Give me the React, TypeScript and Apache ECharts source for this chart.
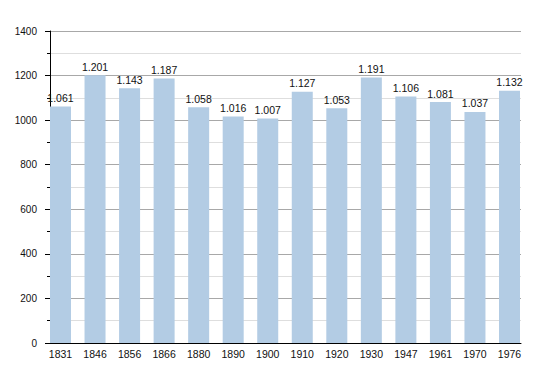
import React, { useEffect, useRef } from "react";
import * as echarts from "echarts";

const years = ["1831", "1846", "1856", "1866", "1880", "1890", "1900", "1910", "1920", "1930", "1947", "1961", "1970", "1976"];
const population = [1061, 1201, 1143, 1187, 1058, 1016, 1007, 1127, 1053, 1191, 1106, 1081, 1037, 1132];

const FONT = "'Liberation Sans', Arial, Helvetica, sans-serif";

function fmt(v: number): string {
  const s = String(Math.round(v));
  return s.replace(/\B(?=(\d{3})+(?!\d))/g, ".");
}

export default function App() {
  const ref = useRef<HTMLDivElement>(null);
  useEffect(() => {
    if (!ref.current) return;
    const chart = echarts.init(ref.current, undefined, { renderer: "svg" });
    chart.setOption({
      animation: false,
      backgroundColor: "#ffffff",
      textStyle: { fontFamily: FONT },
      grid: [
        { left: 50, right: 29, top: 31, bottom: 30, containLabel: false },
        { left: 60.5, right: 40.5, top: 31, bottom: 30, containLabel: false },
      ],
      xAxis: [
        {
          type: "category",
          gridIndex: 0,
          data: [""],
          axisLine: { show: true, lineStyle: { color: "#000", width: 1 } },
          axisTick: { show: false },
          axisLabel: { show: false },
          splitLine: { show: false },
          z: 0,
        },
        {
          type: "category",
          gridIndex: 1,
          data: years,
          boundaryGap: false,
          axisLine: { show: false },
          axisTick: { show: false },
          axisLabel: { show: true, color: "#111", fontSize: 10.5, fontFamily: FONT, margin: 5, interval: 0 },
          splitLine: { show: false },
        },
      ],
      yAxis: [
        {
          type: "value",
          gridIndex: 0,
          min: 0,
          max: 1400,
          interval: 200,
          axisLine: { show: true, lineStyle: { color: "#000", width: 1 } },
          axisTick: { show: true, length: 5, lineStyle: { color: "#000" } },
          minorTick: { show: true, splitNumber: 2, length: 3, lineStyle: { color: "#000" } },
          axisLabel: { color: "#111", fontSize: 10, fontFamily: FONT, margin: 13, formatter: (v: number) => String(v) },
          splitLine: { show: true, lineStyle: { color: "#a8a8a8", width: 1 } },
          minorSplitLine: { show: true, lineStyle: { color: "#dedede", width: 1 } },
          z: 0,
        },
        {
          type: "value",
          gridIndex: 1,
          min: 0,
          max: 1400,
          show: false,
          splitLine: { show: false },
        },
      ],
      series: [
        {
          type: "bar",
          xAxisIndex: 1,
          yAxisIndex: 1,
          data: population,
          barWidth: 21,
          z: 10,
          itemStyle: { color: "#b3cce4" },
          label: {
            show: true,
            position: "top",
            distance: 3,
            color: "#111",
            fontSize: 10.5,
            fontFamily: FONT,
            formatter: (p: any) => fmt(p.value),
          },
        },
      ],
    });
    return () => chart.dispose();
  }, []);
  return (
    <div
      ref={ref}
      style={{ position: "fixed", left: 0, top: 0, width: 550, height: 373, background: "#fff" }}
    />
  );
}
